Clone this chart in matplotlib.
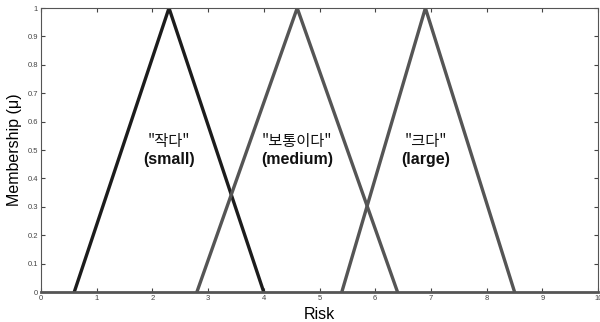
import matplotlib.pyplot as plt

plt.rcParams['font.family'] = ['Liberation Sans', 'Noto Sans CJK KR', 'DejaVu Sans']

# triangular membership functions (a, peak, c)
names = ['"작다"\n(small)', '"보통이다"\n(medium)', '"크다"\n(large)']
a_pts = [0.6, 2.8, 5.4]
peaks = [2.3, 4.6, 6.9]
c_pts = [4.0, 6.4, 8.5]
colors = ['#1c1c1c', '#555555', '#555555']
label_y = [0.5, 0.5, 0.5]

xticks = [0, 1, 2, 3, 4, 5, 6, 7, 8, 9, 10]
yticks = [0, 0.1, 0.2, 0.3, 0.4, 0.5, 0.6, 0.7, 0.8, 0.9, 1]
ytick_labels = ['0', '0.1', '0.2', '0.3', '0.4', '0.5', '0.6', '0.7', '0.8', '0.9', '1']

fig = plt.figure(figsize=(6, 3.22), dpi=100)
ax = fig.add_axes([0.068, 0.093, 0.929, 0.882])

for a, b, c, col in zip(a_pts, peaks, c_pts, colors):
    ax.plot([a, b, c], [0, 1, 0], color=col, lw=2.4, solid_joinstyle='miter')

for name, b, y in zip(names, peaks, label_y):
    first, second = name.split('\n')
    ax.text(b, y + 0.03, first, ha='center', va='center', fontsize=11,
            family=['Noto Sans CJK KR', 'DejaVu Sans'], color='#111111')
    ax.text(b, y - 0.035, second, ha='center', va='center', fontsize=11.5,
            fontweight='bold', color='#111111')

ax.set_xlim(0, 10)
ax.set_ylim(0, 1)
ax.set_xticks(xticks)
ax.set_yticks(yticks)
ax.set_yticklabels(ytick_labels)
ax.tick_params(direction='in', length=3, labelsize=5.5, top=True, right=True,
               colors='#444444', pad=2)
for s in ax.spines.values():
    s.set_color('#555555')
    s.set_linewidth(0.8)
ax.spines['bottom'].set_linewidth(2)

ax.set_xlabel('Risk', fontsize=11.5, labelpad=4)
ax.set_ylabel('Membership (μ)', fontsize=11.5, labelpad=4)

fig.savefig('out.png', dpi=100)
